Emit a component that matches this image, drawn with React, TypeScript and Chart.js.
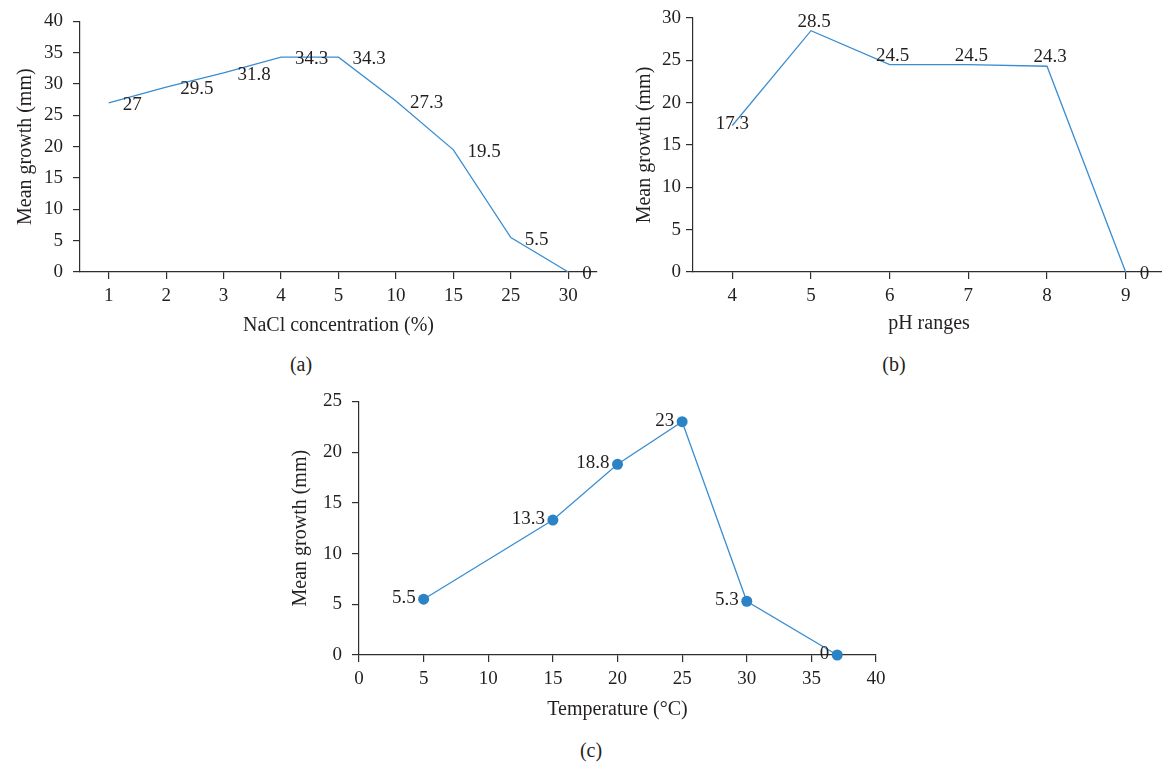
import React, { useEffect, useRef } from 'react';
import { Chart, registerables } from 'chart.js';

Chart.register(...registerables);

// ---------- data ----------
const naclCategories = ['1', '2', '3', '4', '5', '10', '15', '25', '30'];
const naclGrowth = [27, 29.5, 31.8, 34.3, 34.3, 27.3, 19.5, 5.5, 0];

const phCategories = ['4', '5', '6', '7', '8', '9'];
const phGrowth = [17.3, 28.5, 24.5, 24.5, 24.3, 0];
const phLabelPlacement = ['center', 'above', 'above', 'above', 'above', 'right'];

const tempValues = [5, 15, 20, 25, 30, 37];
const tempGrowth = [5.5, 13.3, 18.8, 23, 5.3, 0];

const yTitle = 'Mean growth (mm)';
const naclTitle = 'NaCl concentration (%)';
const phTitle = 'pH ranges';
const tempTitle = 'Temperature (°C)';

// ---------- style ----------
const FONT = '"Liberation Serif", "Times New Roman", serif';
const TEXT = '#231f20';
const AXIS = '#2e2e2e';
const LINE = '#3a8dd1';
const DOT = '#2b83c6';
const TICK_SIZE = 19;
const TITLE_SIZE = 20;

type Placement = 'right' | 'left' | 'above' | 'center';

function makeLabelPlugin(values: number[], placements: Placement[]) {
  return {
    id: 'valueLabels',
    afterDatasetsDraw(chart: any) {
      const ctx = chart.ctx;
      const meta = chart.getDatasetMeta(0);
      ctx.save();
      ctx.font = `${TICK_SIZE}px ${FONT}`;
      ctx.fillStyle = TEXT;
      meta.data.forEach((el: any, i: number) => {
        const p = placements[i];
        let x = el.x;
        let y = el.y;
        ctx.textBaseline = 'middle';
        if (p === 'right') {
          ctx.textAlign = 'left';
          x += 14;
          y += 2;
        } else if (p === 'left') {
          ctx.textAlign = 'right';
          x -= 8;
          y -= 1;
        } else if (p === 'above') {
          ctx.textAlign = 'center';
          x += 3;
          y -= 9;
        } else {
          ctx.textAlign = 'center';
          y -= 2;
        }
        ctx.fillText(String(values[i]), x, y);
      });
      ctx.restore();
    },
  };
}

interface PanelSpec {
  xScale: any;
  data: any;
  yMax: number;
  yAxisWidth: number;
  xAxisHeight: number;
  padding: any;
  yTitlePad: number;
  xTitlePad: number;
  yTickPad: number;
  xTitle: string;
  pointRadius: number;
  plugin: any;
}

function buildChart(canvas: HTMLCanvasElement, s: PanelSpec) {
  const gridCommon = {
    drawOnChartArea: false,
    drawTicks: true,
    tickLength: 7,
    color: AXIS,
    lineWidth: 1.2,
  };
  return new Chart(canvas, {
    type: 'line',
    data: s.data,
    options: {
      responsive: false,
      maintainAspectRatio: false,
      animation: false,
      layout: { padding: s.padding },
      plugins: {
        legend: { display: false },
        tooltip: { enabled: false },
      },
      elements: {
        line: { tension: 0, borderWidth: 1.3, borderColor: LINE },
        point: {
          radius: s.pointRadius,
          backgroundColor: DOT,
          borderWidth: 0,
          hoverRadius: s.pointRadius,
        },
      },
      scales: {
        x: {
          ...s.xScale,
          grid: { ...gridCommon },
          border: { display: true, color: AXIS, width: 1.2 },
          ticks: {
            ...(s.xScale.ticks || {}),
            color: TEXT,
            font: { family: FONT, size: TICK_SIZE },
            padding: 6,
            autoSkip: false,
            maxRotation: 0,
          },
          title: {
            display: true,
            text: s.xTitle,
            color: TEXT,
            font: { family: FONT, size: TITLE_SIZE },
            padding: { top: 0, bottom: s.xTitlePad },
          },
          afterFit: (scale: any) => {
            scale.height = s.xAxisHeight;
          },
        },
        y: {
          type: 'linear',
          min: 0,
          max: s.yMax,
          grid: { ...gridCommon },
          border: { display: true, color: AXIS, width: 1.2 },
          ticks: {
            stepSize: 5,
            color: TEXT,
            font: { family: FONT, size: TICK_SIZE },
            padding: s.yTickPad,
          },
          title: {
            display: true,
            text: yTitle,
            color: TEXT,
            font: { family: FONT, size: TITLE_SIZE },
            padding: { top: s.yTitlePad, bottom: 0 },
          },
          afterFit: (scale: any) => {
            scale.width = s.yAxisWidth;
          },
        },
      },
    } as any,
    plugins: [s.plugin],
  });
}

function Panel(props: {
  left: number;
  top: number;
  width: number;
  height: number;
  spec: () => PanelSpec;
}) {
  const ref = useRef<HTMLCanvasElement | null>(null);
  useEffect(() => {
    if (!ref.current) return;
    const chart = buildChart(ref.current, props.spec());
    return () => chart.destroy();
  }, []);
  return (
    <canvas
      ref={ref}
      width={props.width}
      height={props.height}
      style={{
        position: 'absolute',
        left: props.left,
        top: props.top,
        width: props.width,
        height: props.height,
      }}
    />
  );
}

const naclSpec = (): PanelSpec => ({
  xScale: { type: 'category', offset: true },
  data: {
    labels: naclCategories,
    datasets: [{ data: naclGrowth, clip: false }],
  },
  yMax: 40,
  yAxisWidth: 80,
  xAxisHeight: 73,
  padding: { top: 17, right: 3, left: 0, bottom: 0 },
  yTitlePad: 14,
  xTitlePad: 7,
  yTickPad: 10,
  xTitle: naclTitle,
  pointRadius: 0,
  plugin: makeLabelPlugin(naclGrowth, naclGrowth.map(() => 'right' as Placement)),
});

const phSpec = (): PanelSpec => ({
  xScale: { type: 'category', offset: true },
  data: {
    labels: phCategories,
    datasets: [{ data: phGrowth, clip: false }],
  },
  yMax: 30,
  yAxisWidth: 93,
  xAxisHeight: 73,
  padding: { top: 18, right: 1, left: 0, bottom: 0 },
  yTitlePad: 33,
  xTitlePad: 9,
  yTickPad: 5,
  xTitle: phTitle,
  pointRadius: 0,
  plugin: makeLabelPlugin(phGrowth, phLabelPlacement as Placement[]),
});

const tempSpec = (): PanelSpec => ({
  xScale: { type: 'linear', min: 0, max: 40, ticks: { stepSize: 5 } },
  data: {
    datasets: [
      {
        data: tempValues.map((t, i) => ({ x: t, y: tempGrowth[i] })),
        clip: false,
      },
    ],
  },
  yMax: 25,
  yAxisWidth: 79,
  xAxisHeight: 70,
  padding: { top: 20, right: 24, left: 0, bottom: 0 },
  yTitlePad: 9,
  xTitlePad: 3,
  yTickPad: 10,
  xTitle: tempTitle,
  pointRadius: 5.5,
  plugin: makeLabelPlugin(tempGrowth, tempGrowth.map(() => 'left' as Placement)),
});

const captionStyle = (x: number, y: number): React.CSSProperties => ({
  position: 'absolute',
  left: x,
  top: y,
  transform: 'translate(-50%, -50%)',
  fontFamily: FONT,
  fontSize: TITLE_SIZE,
  color: TEXT,
  lineHeight: 1,
  whiteSpace: 'nowrap',
});

export default function App() {
  return (
    <div
      style={{
        position: 'absolute',
        left: 0,
        top: 0,
        width: 1162,
        height: 765,
        overflow: 'hidden',
        background: '#ffffff',
      }}
    >
      <Panel left={0} top={0} width={600} height={345} spec={naclSpec} />
      <Panel left={600} top={0} width={566} height={345} spec={phSpec} />
      <Panel left={280} top={380} width={620} height={345} spec={tempSpec} />
      <div style={captionStyle(301, 364)}>(a)</div>
      <div style={captionStyle(894, 364)}>(b)</div>
      <div style={captionStyle(591, 750)}>(c)</div>
    </div>
  );
}
